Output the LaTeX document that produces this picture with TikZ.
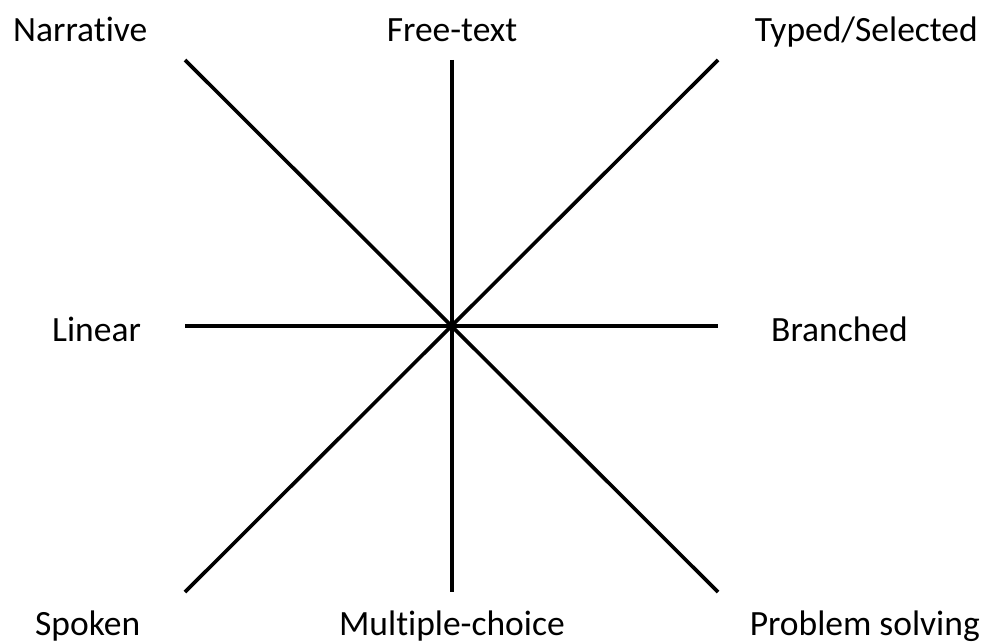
\documentclass[tikz,border=0pt]{standalone}
\usepackage{fontspec}
\setmainfont[Ligatures=NoCommon]{Carlito}
\usepackage{tikz}
\usetikzlibrary{positioning}

\begin{document}
\begin{tikzpicture}[x=1pt,y=-1pt,
  axis/.style={line width=3.6pt},
  lbl/.style={inner sep=0pt,anchor=base,font=\fontsize{35.5}{42}\selectfont}]
  \useasboundingbox (0,0) rectangle (986,642);
  % ends of the four axes
  \coordinate (nw) at (185,60);
  \coordinate (n) at (452,60);
  \coordinate (ne) at (718,60);
  \coordinate (w) at (185,326);
  \coordinate (e) at (718,326);
  \coordinate (sw) at (185,592);
  \coordinate (s) at (452,592);
  \coordinate (se) at (718,592);
  \draw[axis] (nw) -- (se);
  \draw[axis] (ne) -- (sw);
  \draw[axis] (n) -- (s);
  \draw[axis] (w) -- (e);
  % pole labels
  \node[lbl,anchor=base west] (narr) at (13,42) {Narrative};
  \node[lbl] (free) at (452,42) {Free-text};
  \node[lbl,anchor=base east] (typed) at (978,42) {Typed/Selected};
  \node[lbl,anchor=base west] (lin) at (52,341) {Linear};
  \node[lbl,anchor=base west] (bran) at (771,341) {Branched};
  \node[lbl,anchor=base west] (spok) at (35,635) {Spoken};
  \node[lbl] (mult) at (452,635) {Multiple-choice};
  \node[lbl,anchor=base east] (prob) at (980,635) {Problem solving};
\end{tikzpicture}
\end{document}
